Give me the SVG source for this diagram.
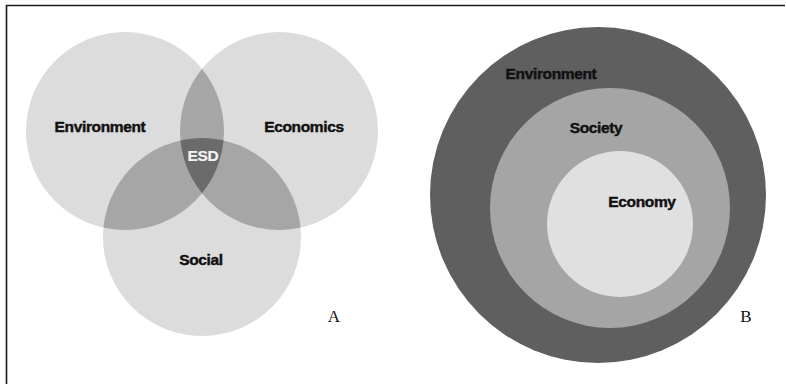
<svg xmlns="http://www.w3.org/2000/svg" width="786" height="384" viewBox="0 0 786 384">
  <style>
    .lbl { font-family: "Liberation Sans", Arial, sans-serif; font-weight: bold; font-size: 15.5px; fill: #111; stroke: #111; stroke-width: 0.45px; letter-spacing: -0.35px; }
    .tag { font-family: "Liberation Serif", "Times New Roman", serif; font-size: 17px; fill: #111; }
    .ring1 { fill: #dcdcdc; }
    .ring2 { fill: #a6a6a6; }
    .ring3 { fill: #6b6b6b; }
  </style>
  <defs>
    <clipPath id="clipEnv"><circle cx="125" cy="131" r="99"/></clipPath>
    <clipPath id="clipEco"><circle cx="279" cy="131" r="99"/></clipPath>
    <clipPath id="clipSoc"><circle cx="202" cy="237" r="99"/></clipPath>
  </defs>

  <rect width="786" height="384" fill="#ffffff"/>
  <!-- frame -->
  <path d="M6.5 384 V5.5 H785" fill="none" stroke="#1a1a1a" stroke-width="1.6"/>

  <!-- A: three overlapping circles -->
  <g id="venn">
    <g id="env-circle"><circle class="ring1" cx="125" cy="131" r="99"/></g>
    <g id="eco-circle"><circle class="ring1" cx="279" cy="131" r="99"/></g>
    <g id="soc-circle"><circle class="ring1" cx="202" cy="237" r="99"/></g>
    <!-- pairwise overlaps -->
    <g clip-path="url(#clipEnv)"><circle class="ring2" cx="279" cy="131" r="99"/></g>
    <g clip-path="url(#clipEnv)"><circle class="ring2" cx="202" cy="237" r="99"/></g>
    <g clip-path="url(#clipEco)"><circle class="ring2" cx="202" cy="237" r="99"/></g>
    <!-- centre overlap -->
    <g clip-path="url(#clipEnv)"><g clip-path="url(#clipEco)"><circle class="ring3" cx="202" cy="237" r="99"/></g></g>
  </g>
  <g id="venn-labels">
    <text class="lbl" x="100" y="132" text-anchor="middle">Environment</text>
    <text class="lbl" x="304" y="132" text-anchor="middle">Economics</text>
    <text class="lbl" x="203" y="161" text-anchor="middle" style="fill:#f4f4f4;stroke:#f4f4f4;stroke-width:0.2px">ESD</text>
    <text class="lbl" x="201" y="265" text-anchor="middle">Social</text>
    <text class="tag" x="334" y="322" text-anchor="middle">A</text>
  </g>

  <!-- B: nested circles -->
  <g id="nested">
    <g id="environment"><circle cx="598" cy="195" r="168" fill="#5f5f5f"/>
      <text class="lbl" x="551" y="79" text-anchor="middle">Environment</text></g>
    <g id="society"><circle cx="610" cy="208" r="120" fill="#a5a5a5"/>
      <text class="lbl" x="596" y="133" text-anchor="middle">Society</text></g>
    <g id="economy"><circle cx="620" cy="224" r="73" fill="#e0e0e0"/>
      <text class="lbl" x="642" y="207" text-anchor="middle">Economy</text></g>
    <text class="tag" x="746" y="322" text-anchor="middle">B</text>
  </g>
</svg>
